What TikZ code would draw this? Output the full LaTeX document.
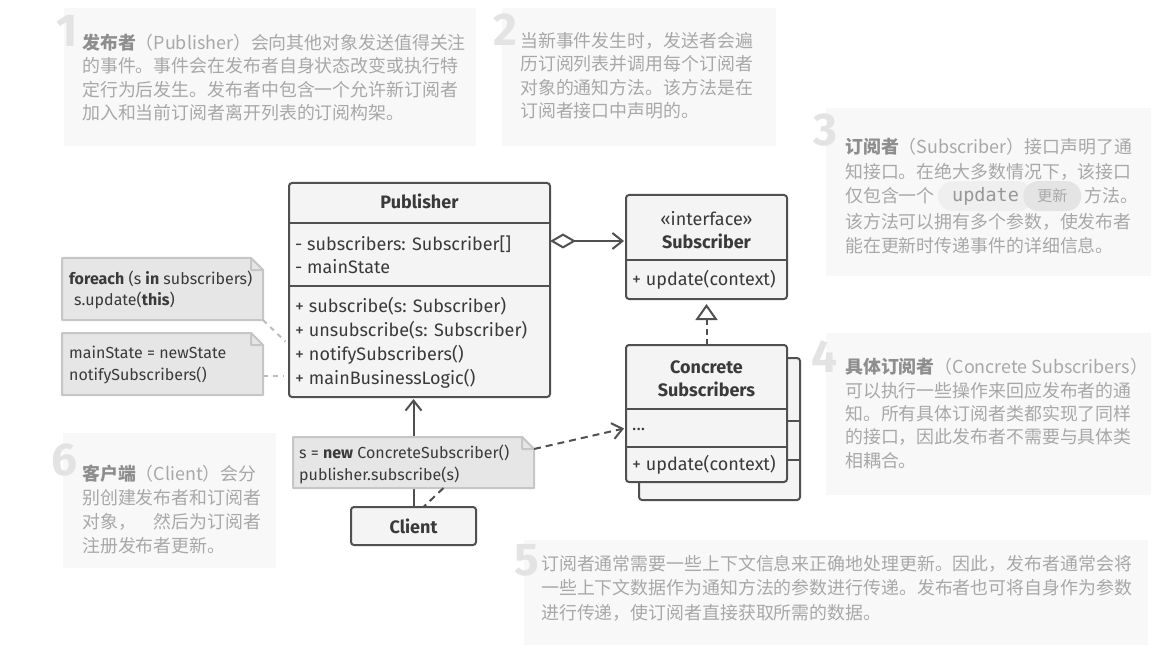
\documentclass[tikz,border=0pt]{standalone}
\usepackage{fontspec}
\setmainfont{Fira Sans}
\newfontfamily\cjk{Noto Sans CJK SC}
\newfontfamily\codefont{DejaVu Sans Mono}
\usetikzlibrary{positioning,arrows.meta}

\definecolor{umlline}{HTML}{505050}
\definecolor{umlfill}{HTML}{F4F4F4}
\definecolor{umlink}{HTML}{3A3A3A}
\definecolor{notefill}{HTML}{E6E6E6}
\definecolor{noteline}{HTML}{C6C6C6}
\definecolor{linkgrey}{HTML}{BDBDBD}
\definecolor{infofill}{HTML}{F8F8F8}
\definecolor{infoink}{HTML}{A8A8A8}
\definecolor{infobold}{HTML}{8E8E8E}
\definecolor{infonum}{HTML}{E3E3E3}
\definecolor{pillfill}{HTML}{EFEFEF}
\definecolor{pilltag}{HTML}{E4E4E4}

\newcommand{\term}[1]{\textcolor{infobold}{\bfseries #1}}

\tikzset{
  umlbox/.style={draw=umlline, fill=umlfill, line width=2pt, rounded corners=3pt,
    inner sep=0pt, outer sep=0pt, anchor=north west},
  umlrule/.style={draw=umlline, line width=2pt},
  umlname/.style={font=\fontsize{18}{23}\selectfont\bfseries, text=umlink, inner sep=0pt, anchor=base},
  umlitem/.style={font=\fontsize{18}{24}\selectfont, text=umlink, inner sep=0pt,
    anchor=base west, align=left},
  notearea/.style={inner sep=0pt, outer sep=0pt, anchor=north west},
  notebody/.style={draw=noteline, fill=notefill, line width=2pt, line join=round},
  notecode/.style={font=\fontsize{16}{21.5}\selectfont, text=umlink, inner sep=0pt,
    anchor=base west, align=left},
  infobox/.style={fill=infofill, inner sep=0pt, outer sep=0pt, anchor=north west},
  infonum/.style={font=\fontsize{46}{46}\selectfont\bfseries, text=infonum, inner sep=0pt,
    anchor=base east},
  infotext/.style={font=\cjk\fontsize{17.9}{23.5}\selectfont, text=infoink, inner sep=0pt,
    anchor=base west, align=left},
  codepill/.style={fill=pillfill, rounded corners=15pt, minimum height=30pt, inner xsep=14pt,
    inner ysep=0pt, font=\codefont\fontsize{18.5}{18.5}\selectfont, text=infoink!90!black},
  codetag/.style={fill=pilltag, rounded corners=15pt, minimum height=30pt, inner xsep=14pt,
    inner ysep=0pt, font=\cjk\fontsize{15}{15}\selectfont, text=infoink},
  aggr/.style={draw=umlline, line width=2pt, shorten >=2pt,
    {Diamond[open,length=26pt,width=15pt]}-{Straight Barb[length=10pt,width=16pt]}},
  realize/.style={draw=umlline, line width=2pt, dash pattern=on 6pt off 4pt, shorten >=5pt,
    -{Triangle[open,length=16pt,width=22pt]}},
  assoc/.style={draw=umlline, line width=2pt, shorten >=2pt, -{Straight Barb[length=10pt,width=16pt]}},
  depend/.style={assoc, dash pattern=on 7pt off 5pt},
  notelink/.style={draw=umlline, line width=2pt, dash pattern=on 7pt off 5pt},
  notelinklight/.style={draw=linkgrey, line width=2pt, dash pattern=on 5pt off 5pt, shorten >=5pt}
}

\begin{document}
\begin{tikzpicture}[x=1pt,y=-1pt]
\useasboundingbox (0,0) rectangle (1161,652);

\node[infobox, minimum width=412pt, minimum height=138pt] (info1) at (64,8) {};
\node[infonum] (num1) at (78,47) {1};
\node[infotext] (text1) at (82,120) {\term{发布者}（Publisher）会向其他对象发送值得关注\\
  的事件。事件会在发布者自身状态改变或执行特\\定行为后发生。发布者中包含一个允许新订阅者\\
  加入和当前订阅者离开列表的订阅构架。};

\node[infobox, minimum width=274pt, minimum height=138pt] (info2) at (502,8) {};
\node[infonum] (num2) at (517,46) {2};
\node[infotext] (text2) at (520,118) {当新事件发生时，发送者会遍\\历订阅列表并调用每个订阅者\\
  对象的通知方法。该方法是在\\订阅者接口中声明的。};

\node[infobox, minimum width=325pt, minimum height=168pt] (info3) at (826,108) {};
\node[infonum] (num3) at (838,146) {3};
\node[infotext, font=\cjk\fontsize{17.9}{24.5}\selectfont] (text3a) at (845,178.5)
  {\term{订阅者}（Subscriber）接口声明了通\\知接口。在绝大多数情况下，该接口};
\node[infotext] (text3b) at (845,203) {仅包含一个};
\node[codepill, right=3pt of text3b] (upd) {update};
\node[codetag, right=-10pt of upd] (updzh) {更新};
\node[infotext] (text3c) at ([xshift=3pt]updzh.east |- text3b.base) {方法。};
\node[infotext] (text3d) at (845,252)
  {该方法可以拥有多个参数，使发布者\\能在更新时传递事件的详细信息。};

\node[infobox, minimum width=325pt, minimum height=162pt] (info4) at (826,333) {};
\node[infonum] (num4) at (838,372) {4};
\node[infotext, font=\cjk\fontsize{17.9}{23.3}\selectfont] (text4) at (845,467)
  {\term{具体订阅者}（Concrete Subscribers）\\
  可以执行一些操作来回应发布者的通\\知。所有具体订阅者类都实现了同样\\
  的接口，因此发布者不需要与具体类\\相耦合。};

\node[infobox, minimum width=624pt, minimum height=105pt] (info5) at (524,540) {};
\node[infonum] (num5) at (539,575) {5};
\node[infotext, font=\cjk\fontsize{17.9}{24.5}\selectfont] (text5) at (541,619)
  {订阅者通常需要一些上下文信息来正确地处理更新。因此，发布者通常会将\\
  一些上下文数据作为通知方法的参数进行传递。发布者也可将自身作为参数\\
  进行传递，使订阅者直接获取所需的数据。};

\node[infobox, minimum width=213pt, minimum height=135pt] (info6) at (63,433) {};
\node[infonum] (num6) at (78,475) {6};
\node[infotext, font=\cjk\fontsize{17.9}{24}\selectfont] (text6) at (82,552)
  {\term{客户端}（Client）会分\\别创建发布者和订阅者\\对象，\quad 然后为订阅者\\注册发布者更新。};

\node[umlbox, minimum width=261pt, minimum height=214pt] (pub) at (289,183) {};
\draw[umlrule] (pub.west |- 0,223) -- (pub.east |- 0,223);
\draw[umlrule] (pub.west |- 0,286) -- (pub.east |- 0,286);
\node[umlname] (pubname) at (pub.north |- 0,209) {Publisher};
\node[umlitem, font=\fontsize{18}{23}\selectfont] (pubfields) at (295,273.5)
  {- subscribers: Subscriber[]\\- mainState};
\node[umlitem] (pubops) at (295,384.5) {+ subscribe(s: Subscriber)\\+ unsubscribe(s: Subscriber)\\
  + notifySubscribers()\\+ mainBusinessLogic()};

\node[umlbox, minimum width=161pt, minimum height=104pt] (sub) at (626,195) {};
\draw[umlrule] (sub.west |- 0,260) -- (sub.east |- 0,260);
\node[umlname, font=\fontsize{18}{23}\selectfont] (subtag) at (sub.north |- 0,225.5) {«interface»};
\node[umlname] (subname) at (sub.north |- 0,249) {Subscriber};
\node[umlitem] (subops) at (632,285.5) {+ update(context)};

\node[umlbox, minimum width=161pt, minimum height=142pt] (concback) at (639,358) {};
\draw[umlrule] (concback.west |- 0,421) -- (concback.east |- 0,421);
\draw[umlrule] (concback.west |- 0,460) -- (concback.east |- 0,460);
\node[umlbox, minimum width=161pt, minimum height=137pt] (conc) at (626,345) {};
\draw[umlrule] (conc.west |- 0,409) -- (conc.east |- 0,409);
\draw[umlrule] (conc.west |- 0,447) -- (conc.east |- 0,447);
\node[umlname, align=center] (concname) at (conc.north |- 0,396) {Concrete\\Subscribers};
\node[umlitem] (concfields) at (632,430) {...};
\node[umlitem] (concops) at (632,470.5) {+ update(context)};

\node[umlbox, anchor=center, minimum width=125pt, minimum height=38pt,
  font=\fontsize{18}{18}\selectfont\bfseries, text=umlink] (client) at (413.5,526) {Client};

\node[notearea, minimum width=201pt, minimum height=62pt] (forloop) at (62,258) {};
\node[notearea, minimum width=201pt, minimum height=62pt] (statenote) at (62,333) {};
\node[notearea, minimum width=241pt, minimum height=51pt] (clientnote) at (293,437) {};

\draw[assoc] (client.north) -- (client.north |- pub.south);

\foreach \n in {forloop,statenote,clientnote}{
  \filldraw[notebody] (\n.north west) -- ([xshift=-12pt]\n.north east)
    -- ([yshift=-12pt]\n.north east) -- (\n.south east) -- (\n.south west) -- cycle;
  \filldraw[notebody] ([xshift=-12pt]\n.north east) |- ([yshift=-12pt]\n.north east) -- cycle;
}
\node[notecode] (forlooptext) at (69,305.5)
  {\textbf{foreach} (s \textbf{in} subscribers)\\\hspace*{5pt}s.update(\textbf{this})};
\node[notecode, font=\fontsize{16}{22}\selectfont] (statetext) at (69,380)
  {mainState = newState\\notifySubscribers()};
\node[notecode, font=\fontsize{16}{22}\selectfont] (clienttext) at (299,480)
  {s = \textbf{new} ConcreteSubscriber()\\publisher.subscribe(s)};

\draw[aggr] (pub.east |- 0,241) -- (sub.west |- 0,241);
\draw[realize] (conc.north) -- (sub.south);
\draw[depend] ([yshift=-12pt]clientnote.north east) -- (conc.west |- 0,428);
\draw[notelink] ([xshift=30pt]clientnote.south) -- ([xshift=10pt]client.north);
\draw[notelinklight] (forloop.south east) -- (pub.west |- 0,345);
\draw[notelinklight] (statenote.east |- 0,376) -- (pub.west |- 0,376);
\end{tikzpicture}
\end{document}
